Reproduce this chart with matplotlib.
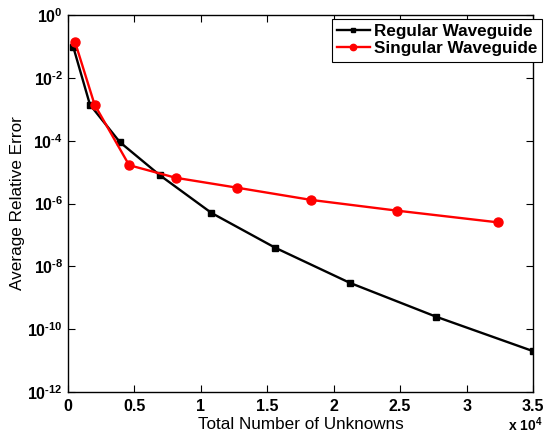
import matplotlib
matplotlib.use("Agg")
import matplotlib.pyplot as plt

# data
regular_n = [400, 1650, 3900, 6900, 10800, 15600, 21200, 27700, 35000]
regular_err = [9.5e-2, 1.4e-3, 9e-5, 8e-6, 5e-7, 3.9e-8, 3e-9, 2.5e-10, 2e-11]

singular_n = [530, 2000, 4600, 8100, 12700, 18300, 24800, 32400]
singular_err = [1.38e-1, 1.4e-3, 1.66e-5, 6.6e-6, 3.2e-6, 1.3e-6, 5.9e-7, 2.5e-7]

xticks = [0, 5000, 10000, 15000, 20000, 25000, 30000, 35000]
xtick_labels = ['0', '0.5', '1', '1.5', '2', '2.5', '3', '3.5']
yexps = [0, -2, -4, -6, -8, -10, -12]

plt.rcParams['font.family'] = 'Liberation Sans'
plt.rcParams['mathtext.fontset'] = 'custom'
plt.rcParams['mathtext.rm'] = 'Liberation Sans:bold'
plt.rcParams['mathtext.bf'] = 'Liberation Sans:bold'

fig = plt.figure(figsize=(5.45, 4.36), dpi=100)
ax = fig.add_axes([0.1248, 0.1009, 0.8532, 0.8647])

ax.semilogy(regular_n, regular_err, '-s', color='k', lw=1.7, ms=5,
            label='Regular Waveguide')
ax.semilogy(singular_n, singular_err, '-o', color='#ff0000', lw=1.7, ms=6.5,
            label='Singular Waveguide')

ax.set_xlim(0, 35000)
ax.set_ylim(1e-12, 1)
ax.set_xticks(xticks)
ax.set_xticklabels(xtick_labels, fontweight='bold', fontsize=11.5)
ax.set_yticks([10.0 ** e for e in yexps])
ylabels = []
for e in yexps:
    if e < 0:
        ylabels.append(r'$\mathbf{10^{\text{-}%d}}$' % (-e))
    else:
        ylabels.append(r'$\mathbf{10^{%d}}$' % e)
ax.set_yticklabels(ylabels, fontsize=11.5)
ax.minorticks_off()
ax.tick_params(direction='in', top=True, right=True, length=5, width=0.8)
ax.tick_params(axis='x', pad=5)
for s in ax.spines.values():
    s.set_linewidth(1.0)

ax.set_xlabel('Total Number of Unknowns', fontsize=12.3, labelpad=2)
ax.set_ylabel('Average Relative Error', fontsize=12.3, labelpad=2)
fig.text(543 / 545, 1 - 415 / 436, r'x $\mathbf{10^{4}}$', ha='right', va='top',
         fontsize=10, fontweight='bold')

leg = ax.legend(loc='upper right', bbox_to_anchor=(1.02, 0.99),
                prop={'weight': 'bold', 'size': 12.3}, fancybox=False,
                edgecolor='k', framealpha=1, borderpad=0.3, labelspacing=0.15,
                handlelength=1.9, handletextpad=0.25, markerscale=0.7,
                borderaxespad=0)
leg.get_frame().set_linewidth(0.8)

fig.savefig('out.png', dpi=100)
